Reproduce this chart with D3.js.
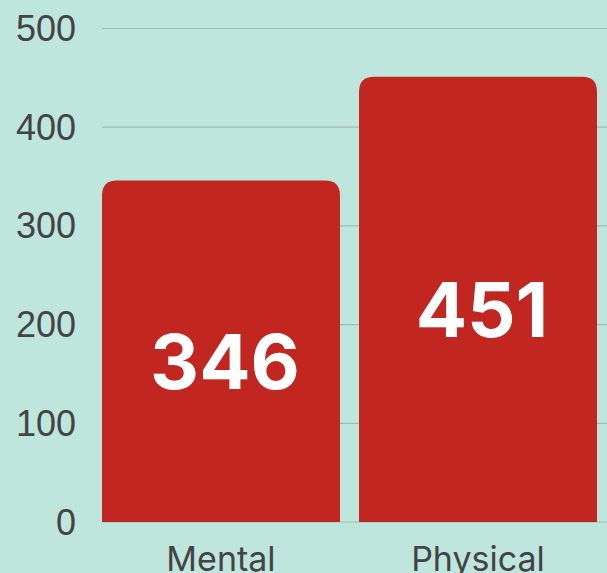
<!DOCTYPE html>
<html>
<head>
<meta charset="utf-8">
<script src="https://cdn.jsdelivr.net/npm/d3@7"></script>
<style>
  html, body { margin: 0; padding: 0; background: #bee6dd; }
  svg { display: block; }
</style>
</head>
<body>
<div id="chart"></div>
<script>
// data
const categories = ["Mental", "Physical"];
const values = [346, 451];
const tickValues = [0, 100, 200, 300, 400, 500];

// proportions
let svgWidth = 607;
let svgHeight = 573;
let plotLeft = 102;
let plotRight = 597;
let plotTop = 28.5;
let plotBottom = 522;
let radius = 15;

const svg = d3.select("#chart")
    .append("svg")
    .attr("width", svgWidth)
    .attr("height", svgHeight);

svg.append("rect")
    .attr("width", svgWidth)
    .attr("height", svgHeight)
    .attr("fill", "#bee6dd");

const x = d3.scaleBand()
    .domain(categories)
    .range([plotLeft, plotRight])
    .paddingInner(0.074)
    .paddingOuter(0);

const y = d3.scaleLinear()
    .domain([0, 500])
    .range([plotBottom, plotTop]);

// gridlines
svg.append("g")
    .selectAll("line")
    .data(tickValues)
    .enter()
    .append("line")
    .attr("x1", plotLeft)
    .attr("x2", svgWidth)
    .attr("y1", d => y(d))
    .attr("y2", d => y(d))
    .attr("stroke", "#9dbdb4")
    .attr("stroke-width", 1.2);

// y tick labels
svg.append("g")
    .selectAll("text")
    .data(tickValues)
    .enter()
    .append("text")
    .attr("x", 76)
    .attr("y", d => y(d))
    .attr("text-anchor", "end")
    .attr("dominant-baseline", "central")
    .attr("font-family", "'Liberation Sans', Arial, sans-serif")
    .attr("font-size", 36)
    .attr("fill", "#444")
    .text(d => d);

// bars with rounded top corners
function barPath(x0, w, yTop, yBot, r) {
    return `M${x0},${yBot}V${yTop + r}Q${x0},${yTop} ${x0 + r},${yTop}` +
        `H${x0 + w - r}Q${x0 + w},${yTop} ${x0 + w},${yTop + r}V${yBot}Z`;
}

const bars = svg.append("g")
    .selectAll(".bar")
    .data(values)
    .enter()
    .append("g")
    .classed("bar", true);

bars.append("path")
    .attr("d", (d, i) => barPath(x(categories[i]), x.bandwidth(), y(d), y(0), radius))
    .attr("fill", "#c12720");

bars.append("text")
    .attr("x", (d, i) => x(categories[i]) + x.bandwidth() / 2 + 4)
    .attr("y", d => (y(d) + y(0)) / 2 + 10)
    .attr("text-anchor", "middle")
    .attr("dominant-baseline", "central")
    .attr("font-family", "Inter, 'Liberation Sans', sans-serif")
    .attr("font-weight", 700)
    .attr("font-size", 76)
    .attr("fill", "#fff")
    .text(d => d);

// category labels
svg.append("g")
    .selectAll("text")
    .data(categories)
    .enter()
    .append("text")
    .attr("x", d => x(d) + x.bandwidth() / 2)
    .attr("y", 571)
    .attr("text-anchor", "middle")
    .attr("font-family", "Inter, 'Liberation Sans', sans-serif")
    .attr("font-size", 34)
    .attr("fill", "#444")
    .text(d => d);
</script>
</body>
</html>
